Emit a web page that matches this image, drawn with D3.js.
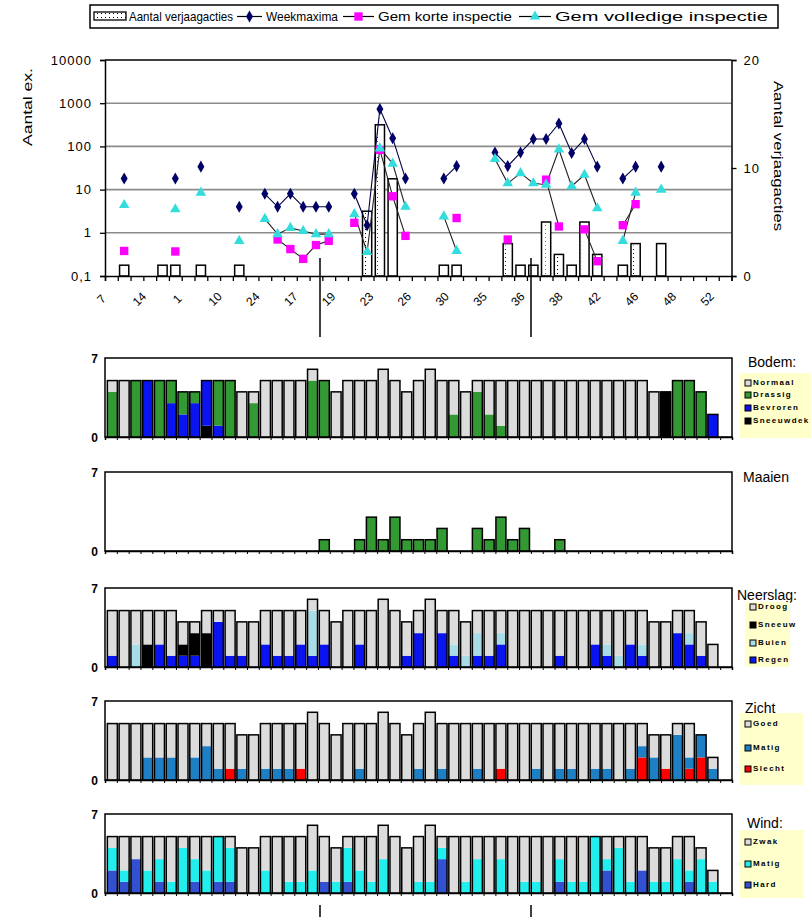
<!DOCTYPE html>
<html>
<head>
<meta charset="utf-8">
<style>
  body { margin: 0; background: #fff; font-family: Arial, 'Liberation Sans', sans-serif; }
  text { fill: #000; }
</style>
</head>
<body>
<svg id="chart" width="811" height="917"></svg>
<script src="https://d3js.org/d3.v7.min.js"></script>
<script>
// ---- top chart data (one entry per week, null = no observation)
var weekLabels = ['7', '14', '1', '10', '24', '17', '19', '23', '26', '30', '35', '36', '38', '42', '46', '48', '52'];
var verjaagacties = [0, 1, 0, 0, 1, 1, 0, 1, 0, 0, 1, 0, 0, 0, 0, 0, 0, 0, 0, 0, 6, 14, 9, 0, 0, 0, 1, 1, 0, 0, 0, 3, 1, 1, 5, 2, 1, 5, 2, 0, 1, 3, 0, 3, 0, 0, 0, 0, 0];
var weekmaxima = [null, 18, null, null, null, 18, null, 34, null, null, 4, null, 8, 4, 8, 4, 4, 4, null, 8, 1.5, 730, 155, 18, null, null, 18, 35, null, null, 72, 35, 72, 148, 148, 340, 70, 148, 34, null, 18, 34, null, 34, null, null, null, null, null];
var gemKorte = [null, 0.38, null, null, null, 0.37, null, null, null, null, null, null, null, 0.7, 0.42, 0.25, 0.52, 0.65, null, 1.7, null, 83, 7, 0.85, null, null, null, 2.2, null, null, null, 0.7, null, null, 17, 1.4, null, 1.2, 0.22, null, 1.5, 4.6, null, null, null, null, null, null, null];
var gemVolledig = [null, 4.4, null, null, null, 3.5, null, 8.5, null, null, 0.65, null, 2.1, 0.93, 1.3, 1.1, 0.93, 0.93, null, 2.7, 0.36, 90, 40, 4, null, null, 2.4, 0.38, null, null, 51, 14, 24, 14, 13, 85, 12, 22, 3.7, null, 0.65, 8.5, null, 10, null, null, null, null, null];

// ---- lower panels (one entry per week, stacked counts)
var bodemSneeuwdek = [0,0,0,0,0,0,0,0,1,0, 0,0,0,0,0,0,0,0,0,0, 0,0,0,0,0,0,0,0,0,0, 0,0,0,0,0,0,0,0,0,0, 0,0,0,0,0,0,0,4,0,0, 0,0];
var bodemBevroren = [0,0,0,5,0,3,2,3,4,1, 0,0,0,0,0,0,0,0,0,0, 0,0,0,0,0,0,0,0,0,0, 0,0,0,0,0,0,0,0,0,0, 0,0,0,0,0,0,0,0,0,0, 0,2];
var bodemDrassig = [4,0,5,0,5,2,2,1,0,4, 5,0,3,0,0,0,0,5,5,0, 0,0,0,0,0,0,0,0,0,2, 0,4,2,1,0,0,0,0,0,0, 0,0,0,0,0,0,0,0,5,5, 4,0];
var bodemNormaal = [1,5,0,0,0,0,0,0,0,0, 0,4,1,5,5,5,5,1,0,4, 5,5,5,6,5,4,5,6,5,3, 4,1,3,4,5,5,5,5,5,5, 5,5,5,5,5,5,4,0,0,0, 0,0];

var maaien = [0,0,0,0,0,0,0,0,0,0, 0,0,0,0,0,0,0,0,1,0, 0,1,3,1,3,1,1,1,2,0, 0,2,1,3,1,2,0,0,1,0, 0,0,0,0,0,0,0,0,0,0, 0,0];

var neerslagRegen = [1,0,0,0,2,1,1,1,0,4, 1,1,0,2,1,1,2,1,2,0, 0,2,0,0,0,1,3,0,3,1, 0,1,1,2,0,0,0,0,1,0, 0,2,1,0,2,1,0,0,3,2, 1,0];
var neerslagBuien = [0,0,2,0,0,0,0,0,0,0, 0,0,0,0,0,0,0,4,0,0, 0,0,0,0,0,0,0,0,0,1, 1,2,0,1,0,0,0,0,0,0, 0,0,1,1,0,1,0,0,0,1, 0,0];
var neerslagSneeuw = [0,0,0,2,0,0,1,2,3,0, 0,0,0,0,0,0,0,0,0,0, 0,0,0,0,0,0,0,0,0,0, 0,0,0,0,0,0,0,0,0,0, 0,0,0,0,0,0,0,0,0,0, 0,0];
var neerslagDroog = [4,5,3,3,3,4,2,1,2,1, 4,3,4,3,4,4,3,1,3,4, 5,3,5,6,5,3,2,6,2,3, 3,2,4,2,5,5,5,5,4,5, 5,3,3,4,3,3,4,4,2,2, 3,2];

var zichtSlecht = [0,0,0,0,0,0,0,0,0,0, 1,0,0,0,0,0,1,0,0,0, 0,0,0,0,0,0,0,0,0,0, 0,0,0,1,0,0,0,0,0,0, 0,0,0,0,0,2,0,1,0,1, 2,0];
var zichtMatig = [0,0,0,2,2,2,0,2,3,1, 0,1,0,1,1,1,0,0,0,0, 0,1,0,0,0,0,1,0,1,0, 0,1,0,0,0,0,1,0,1,1, 0,1,1,0,1,1,2,0,4,1, 2,1];
var zichtGoed = [5,5,5,3,3,3,5,3,2,4, 4,3,4,4,4,4,4,6,5,4, 5,4,5,6,5,4,4,6,4,5, 5,4,5,4,5,5,4,5,4,4, 5,4,4,5,4,2,2,3,1,3, 0,1];

var windHard = [2,1,3,0,1,0,0,1,0,1, 1,0,0,0,0,0,0,0,1,0, 1,0,0,0,0,0,0,0,3,0, 0,0,0,0,0,0,0,0,1,0, 0,0,2,0,0,2,0,0,0,1, 0,0];
var windMatig = [2,1,0,2,2,1,4,2,2,4, 3,0,0,2,0,1,1,2,0,1, 3,2,1,3,0,0,1,1,1,0, 1,3,0,3,0,1,1,0,2,1, 1,5,1,4,1,0,1,1,3,1, 3,1];
var windZwak = [1,3,2,3,2,4,1,2,3,0, 1,4,4,3,5,4,4,4,4,3, 1,3,4,3,5,4,4,5,1,5, 4,2,5,2,5,4,4,5,2,4, 4,0,2,1,4,3,3,3,2,3, 1,1];

var svg = d3.select('#chart');
var defs = svg.append('defs');

// dotted fill used by the action bars
var pat = defs.append('pattern')
  .attr('id', 'dots')
  .attr('patternUnits', 'userSpaceOnUse')
  .attr('width', 4)
  .attr('height', 4);
pat.append('rect').attr('width', 4).attr('height', 4).attr('fill', '#fff');
pat.append('rect').attr('x', 1).attr('y', 1).attr('width', 1).attr('height', 1).attr('fill', '#000');

// ================= top chart =================
var pLeft = 105, pRight = 731.5, pTop = 60, pBottom = 276;
var weeks = d3.range(verjaagacties.length);

var x = d3.scaleBand().domain(weeks).range([pLeft, pRight]);
var xEdge = d3.scaleLinear().domain([0, weeks.length]).range([pLeft, pRight]);
var y = d3.scaleLog().domain([0.1, 10000]).range([pBottom, pTop]);
var y2 = d3.scaleLinear().domain([0, 20]).range([pBottom, pTop]);

// legend
var legend = svg.append('g');
legend.append('rect')
  .attr('x', 90).attr('y', 5).attr('width', 688).attr('height', 23)
  .attr('fill', '#fff').attr('stroke', '#000').attr('stroke-width', 1.5);
legend.append('rect')
  .attr('x', 94).attr('y', 12).attr('width', 32).attr('height', 8)
  .attr('fill', 'url(#dots)').attr('stroke', '#000').attr('stroke-width', 1.3);

var legendItems = [
  {label: 'Aantal verjaagacties', tx: 129, tw: 104},
  {label: 'Weekmaxima', sx: 237, tx: 266, tw: 72, marker: 'diamond', color: '#000066'},
  {label: 'Gem korte inspectie', sx: 343, tx: 378, tw: 134, marker: 'square', color: '#ff00ff'},
  {label: 'Gem volledige inspectie', sx: 519, tx: 555, tw: 213, marker: 'triangle', color: '#33dddd'}
];

var symbols = {
  diamond: d3.symbol().type(d3.symbolDiamond).size(42),
  square: d3.symbol().type(d3.symbolSquare).size(70),
  triangle: d3.symbol().type(d3.symbolTriangle).size(48)
};

legendItems.forEach(function(d) {
  if (d.marker) {
    legend.append('line')
      .attr('x1', d.sx).attr('x2', d.tx - 4)
      .attr('y1', 16.5).attr('y2', 16.5)
      .attr('stroke', '#000').attr('stroke-width', 1.2);
    legend.append('path')
      .attr('d', symbols[d.marker]())
      .attr('transform', 'translate(' + ((d.sx + d.tx - 4) / 2) + ',16.5)')
      .attr('fill', d.color);
  }
  legend.append('text')
    .attr('x', d.tx).attr('y', 21)
    .attr('font-size', 13)
    .attr('textLength', d.tw)
    .attr('lengthAdjust', 'spacingAndGlyphs')
    .text(d.label);
});

// gridlines
svg.append('g').selectAll('line')
  .data([1, 10, 100, 1000])
  .enter().append('line')
  .attr('x1', pLeft).attr('x2', pRight)
  .attr('y1', y).attr('y2', y)
  .attr('stroke', '#8c8c8c').attr('stroke-width', 1.6);

svg.append('line')
  .attr('x1', pLeft).attr('x2', pRight)
  .attr('y1', pTop).attr('y2', pTop)
  .attr('stroke', '#000').attr('stroke-width', 1.5);

// action bars (right axis)
var bars = svg.append('g');
weeks.forEach(function(i) {
  var v = verjaagacties[i];
  if (!v) return;
  var bw = x.bandwidth() * 0.72;
  var bx = x(i) + (x.bandwidth() - bw) / 2;
  bars.append('rect')
    .attr('x', bx).attr('y', y2(v))
    .attr('width', bw).attr('height', y2(0) - y2(v))
    .attr('fill', '#fff').attr('stroke', '#000').attr('stroke-width', 1.5);
  if (v > 1) {
    bars.append('rect')
      .attr('x', bx + 2).attr('y', y2(v) + 2)
      .attr('width', 2).attr('height', y2(0) - y2(v) - 3)
      .attr('fill', 'url(#dots)');
  }
});

// axes
var axLeft = svg.append('g')
  .attr('transform', 'translate(' + pLeft + ',0)')
  .call(d3.axisLeft(y)
    .tickValues([0.1, 1, 10, 100, 1000, 10000])
    .tickSize(5)
    .tickFormat(function(d) { return d < 1 ? '0,1' : d3.format('d')(d); }));

var axRight = svg.append('g')
  .attr('transform', 'translate(' + pRight + ',0)')
  .call(d3.axisRight(y2).tickValues([0, 10, 20]).tickSize(5));

var axBottom = svg.append('g')
  .attr('transform', 'translate(0,' + pBottom + ')')
  .call(d3.axisBottom(xEdge).tickValues(d3.range(weeks.length + 1)).tickSize(5).tickFormat(''));

[axLeft, axRight, axBottom].forEach(function(a) {
  a.select('.domain').attr('stroke', '#000').attr('stroke-width', 1.5);
  a.selectAll('.tick line').attr('stroke', '#000').attr('stroke-width', 1.3);
  a.selectAll('.tick text').attr('font-size', 13).attr('font-family', 'Arial, Liberation Sans, sans-serif').style('letter-spacing', '1px');
});
axLeft.selectAll('.tick text').attr('x', -13);
axRight.selectAll('.tick text').attr('x', 12);

// x labels, every third week
svg.append('g').selectAll('text')
  .data(weekLabels)
  .enter().append('text')
  .attr('transform', function(d, k) {
    var cx = x(k * 3) + x.bandwidth() / 2 - 7 - k * 0.5;
    return 'translate(' + cx + ',302) rotate(-45)';
  })
  .attr('text-anchor', 'middle')
  .attr('font-size', 12)
  .text(function(d) { return d; });

// line series
var seriesList = [
  {values: weekmaxima, color: '#000066', line: '#000044', marker: 'diamond'},
  {values: gemKorte, color: '#ff00ff', line: '#222', marker: 'square'},
  {values: gemVolledig, color: '#33dddd', line: '#222', marker: 'triangle'}
];

var lineGen = d3.line()
  .defined(function(d) { return d != null; })
  .x(function(d, i) { return x(i) + x.bandwidth() / 2; })
  .y(function(d) { return y(d); });

seriesList.forEach(function(s) {
  svg.append('path')
    .attr('d', lineGen(s.values))
    .attr('fill', 'none')
    .attr('stroke', s.line)
    .attr('stroke-width', 1.1);
});
seriesList.forEach(function(s) {
  svg.append('g').selectAll('path')
    .data(s.values.map(function(v, i) { return {v: v, i: i}; }).filter(function(d) { return d.v != null; }))
    .enter().append('path')
    .attr('d', symbols[s.marker]())
    .attr('transform', function(d) {
      return 'translate(' + (x(d.i) + x.bandwidth() / 2) + ',' + y(d.v) + ')';
    })
    .attr('fill', s.color);
});

// axis titles
svg.append('text')
  .attr('transform', 'translate(32,107) rotate(-90)')
  .attr('text-anchor', 'middle')
  .attr('font-size', 13)
  .attr('textLength', 78)
  .attr('lengthAdjust', 'spacingAndGlyphs')
  .text('Aantal ex.');

svg.append('text')
  .attr('transform', 'translate(774,156) rotate(90)')
  .attr('text-anchor', 'middle')
  .attr('font-size', 13)
  .attr('textLength', 150)
  .attr('lengthAdjust', 'spacingAndGlyphs')
  .text('Aantal verjaagacties');

// marker lines
[[320, 258, 337], [531, 258, 337], [320, 905, 917], [531, 905, 917]].forEach(function(l) {
  svg.append('line')
    .attr('x1', l[0]).attr('x2', l[0]).attr('y1', l[1]).attr('y2', l[2])
    .attr('stroke', '#000').attr('stroke-width', 1.5);
});

// ================= lower panels =================
var grey = '#dcdcdc';
var panels = [
  {pos: 358, title: 'Bodem:', tx: 748, ty: 367,
   box: [740, 373, 71, 65], rows: [385, 397, 410, 423],
   series: [
     {name: 'Sneeuwdek', values: bodemSneeuwdek, color: '#000000'},
     {name: 'Bevroren', values: bodemBevroren, color: '#0a14f0'},
     {name: 'Drassig', values: bodemDrassig, color: '#339933'},
     {name: 'Normaal', values: bodemNormaal, color: grey}
   ]},
  {pos: 472, title: 'Maaien', tx: 743, ty: 482,
   series: [{name: 'Maaien', values: maaien, color: '#339933'}]},
  {pos: 588, title: 'Neerslag:', tx: 737, ty: 600,
   box: [745, 602, 45, 65], rows: [609, 627, 645, 662],
   series: [
     {name: 'Regen', values: neerslagRegen, color: '#0a14f0'},
     {name: 'Buien', values: neerslagBuien, color: '#a8dde8'},
     {name: 'Sneeuw', values: neerslagSneeuw, color: '#000000'},
     {name: 'Droog', values: neerslagDroog, color: grey}
   ]},
  {pos: 701, title: 'Zicht', tx: 745, ty: 713,
   box: [740, 713, 63, 72], rows: [726, 750, 771],
   series: [
     {name: 'Slecht', values: zichtSlecht, color: '#ff0000'},
     {name: 'Matig', values: zichtMatig, color: '#1f7fc4'},
     {name: 'Goed', values: zichtGoed, color: grey}
   ]},
  {pos: 814, title: 'Wind:', tx: 747, ty: 828,
   box: [740, 830, 63, 68], rows: [844, 866, 887],
   series: [
     {name: 'Hard', values: windHard, color: '#3350d0'},
     {name: 'Matig', values: windMatig, color: '#22eeee'},
     {name: 'Zwak', values: windZwak, color: grey}
   ]}
];

var cats = d3.range(53);
var xp = d3.scaleBand().domain(cats).range([105, 732]).paddingInner(0.15).paddingOuter(0.2);
var xpEdge = d3.scaleLinear().domain([0, 53]).range([105, 732]);

panels.forEach(function(p) {
  var h = 79;
  var yp = d3.scaleLinear().domain([0, 7]).range([p.pos + h, p.pos]);
  var g = svg.append('g');

  g.append('rect')
    .attr('x', 105).attr('y', p.pos).attr('width', 627).attr('height', h)
    .attr('fill', '#fff').attr('stroke', '#000').attr('stroke-width', 1.5);

  var stack = d3.stack().keys(d3.range(p.series.length))
    .value(function(i, k) { return p.series[k].values[i]; });
  var layers = stack(d3.range(p.series[0].values.length));

  layers.forEach(function(layer, k) {
    g.append('g').selectAll('rect')
      .data(layer.map(function(d, i) { return {y0: d[0], y1: d[1], i: i}; }).filter(function(d) { return d.y1 > d.y0; }))
      .enter().append('rect')
      .attr('x', function(d) { return xp(d.i); })
      .attr('y', function(d) { return yp(d.y1); })
      .attr('width', xp.bandwidth())
      .attr('height', function(d) { return yp(d.y0) - yp(d.y1); })
      .attr('fill', p.series[k].color);
  });

  // outline of every column
  var totals = layers[layers.length - 1].map(function(d) { return d[1]; });
  g.append('g').selectAll('rect')
    .data(totals.map(function(t, i) { return {t: t, i: i}; }).filter(function(d) { return d.t > 0; }))
    .enter().append('rect')
    .attr('x', function(d) { return xp(d.i); })
    .attr('y', function(d) { return yp(d.t); })
    .attr('width', xp.bandwidth())
    .attr('height', function(d) { return yp(0) - yp(d.t); })
    .attr('fill', 'none').attr('stroke', '#000').attr('stroke-width', 1.5);

  var ax = g.append('g')
    .attr('transform', 'translate(0,' + (p.pos + h) + ')')
    .call(d3.axisBottom(xpEdge).tickValues(d3.range(54)).tickSize(3).tickFormat(''));
  ax.select('.domain').attr('stroke', '#000').attr('stroke-width', 1.5);
  ax.selectAll('.tick line').attr('stroke', '#000');

  g.append('text').attr('x', 98).attr('y', p.pos + 5).attr('text-anchor', 'end')
    .attr('font-size', 12).attr('font-weight', 'bold').text('7');
  g.append('text').attr('x', 98).attr('y', p.pos + h + 5).attr('text-anchor', 'end')
    .attr('font-size', 12).attr('font-weight', 'bold').text('0');

  g.append('text').attr('x', p.tx).attr('y', p.ty)
    .attr('font-size', 14).text(p.title);

  if (p.box) {
    g.append('rect')
      .attr('x', p.box[0]).attr('y', p.box[1]).attr('width', p.box[2]).attr('height', p.box[3])
      .attr('fill', '#ffffcc');
    var items = p.series.slice().reverse();
    items.forEach(function(s, k) {
      var ry = p.rows[k];
      g.append('rect')
        .attr('x', p.box[0] + 5).attr('y', ry - 5).attr('width', 6).attr('height', 6)
        .attr('fill', s.color).attr('stroke', '#000').attr('stroke-width', 1);
      g.append('text')
        .attr('x', p.box[0] + 13).attr('y', ry)
        .attr('font-size', 8).attr('font-weight', 'bold')
        .style('letter-spacing', '1.4px')
        .text(s.name);
    });
  }
});
</script>
</body>
</html>
